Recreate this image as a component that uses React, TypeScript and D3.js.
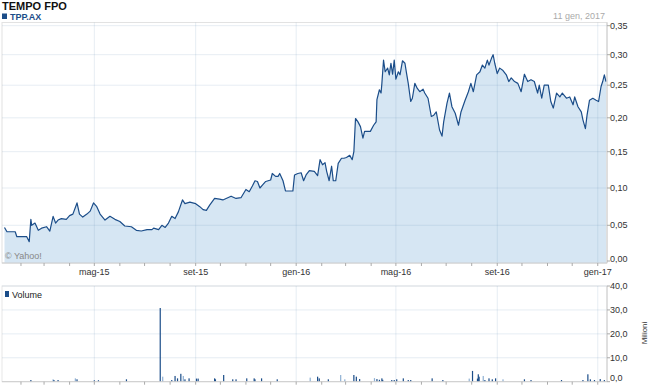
import React from "react";
import * as d3 from "d3";

// ---- price series (TPP.AX, AUD) ----
const priceDates = [
  "2015-01-12","2015-01-15","2015-01-25","2015-01-27","2015-02-08","2015-02-11","2015-02-13","2015-02-14","2015-02-18","2015-02-22",
  "2015-02-26","2015-03-04","2015-03-08","2015-03-12","2015-03-15","2015-03-18","2015-03-22","2015-03-28","2015-04-01","2015-04-05",
  "2015-04-10","2015-04-13","2015-04-17","2015-04-22","2015-04-26","2015-04-30","2015-05-04","2015-05-08","2015-05-14","2015-05-20",
  "2015-05-26","2015-06-01","2015-06-07","2015-06-15","2015-06-21","2015-06-27","2015-07-04","2015-07-10","2015-07-12","2015-07-18",
  "2015-07-22","2015-07-26","2015-07-30","2015-08-03","2015-08-07","2015-08-11","2015-08-16","2015-08-19","2015-08-25","2015-09-01",
  "2015-09-06","2015-09-10","2015-09-14","2015-09-18","2015-09-24","2015-09-30","2015-10-04","2015-10-10","2015-10-14","2015-10-20",
  "2015-10-26","2015-11-01","2015-11-05","2015-11-09","2015-11-12","2015-11-15","2015-11-18","2015-11-21","2015-11-25","2015-12-01",
  "2015-12-03","2015-12-07","2015-12-10","2015-12-12","2015-12-16","2015-12-19","2015-12-28","2015-12-30","2016-01-03","2016-01-07",
  "2016-01-10","2016-01-13","2016-01-17","2016-01-23","2016-01-27","2016-01-30","2016-02-02","2016-02-05","2016-02-07","2016-02-10",
  "2016-02-13","2016-02-15","2016-02-18","2016-02-21","2016-02-25","2016-02-28","2016-03-02","2016-03-06","2016-03-09","2016-03-11",
  "2016-03-13","2016-03-16","2016-03-19","2016-03-22","2016-03-24","2016-03-31","2016-04-04","2016-04-07","2016-04-08","2016-04-11",
  "2016-04-13","2016-04-14","2016-04-16","2016-04-18","2016-04-21","2016-04-23","2016-04-25","2016-04-27","2016-04-29","2016-05-01",
  "2016-05-04","2016-05-06","2016-05-09","2016-05-12","2016-05-14","2016-05-16","2016-05-19","2016-05-21","2016-05-24","2016-05-27",
  "2016-05-30","2016-06-03","2016-06-05","2016-06-09","2016-06-13","2016-06-16","2016-06-19","2016-06-23","2016-06-26","2016-06-28",
  "2016-07-02","2016-07-05","2016-07-08","2016-07-12","2016-07-16","2016-07-19","2016-07-24","2016-07-28","2016-07-31","2016-08-03",
  "2016-08-07","2016-08-11","2016-08-14","2016-08-17","2016-08-20","2016-08-22","2016-08-25","2016-08-27","2016-08-29","2016-09-01",
  "2016-09-04","2016-09-08","2016-09-12","2016-09-15","2016-09-18","2016-09-22","2016-09-26","2016-09-30","2016-10-04","2016-10-08",
  "2016-10-12","2016-10-16","2016-10-20","2016-10-22","2016-10-25","2016-10-28","2016-11-02","2016-11-05","2016-11-08","2016-11-12",
  "2016-11-16","2016-11-19","2016-11-24","2016-11-28","2016-12-02","2016-12-04","2016-12-08","2016-12-12","2016-12-14","2016-12-17",
  "2016-12-19","2016-12-22","2016-12-26","2016-12-30","2017-01-02","2017-01-05","2017-01-07","2017-01-09","2017-01-11",
];
const priceValues = [
  0.047,0.041,0.041,0.034,0.034,0.027,0.058,0.050,0.053,0.043,
  0.046,0.048,0.042,0.062,0.053,0.057,0.059,0.058,0.063,0.065,
  0.080,0.065,0.061,0.065,0.069,0.080,0.075,0.065,0.057,0.062,
  0.058,0.055,0.049,0.048,0.043,0.042,0.044,0.044,0.046,0.044,
  0.050,0.047,0.053,0.062,0.059,0.068,0.084,0.079,0.081,0.079,
  0.075,0.071,0.070,0.077,0.086,0.085,0.084,0.087,0.089,0.086,
  0.087,0.098,0.095,0.103,0.110,0.109,0.100,0.104,0.109,0.111,
  0.120,0.116,0.116,0.120,0.110,0.096,0.096,0.118,0.120,0.121,
  0.110,0.118,0.124,0.123,0.117,0.139,0.132,0.135,0.123,0.110,
  0.130,0.110,0.110,0.134,0.141,0.141,0.142,0.145,0.139,0.150,
  0.199,0.194,0.187,0.170,0.180,0.180,0.189,0.194,0.228,0.243,
  0.238,0.253,0.291,0.272,0.278,0.267,0.286,0.268,0.291,0.260,
  0.272,0.267,0.290,0.286,0.269,0.253,0.225,0.230,0.253,0.245,
  0.240,0.244,0.238,0.230,0.202,0.204,0.209,0.182,0.173,0.194,
  0.222,0.238,0.217,0.207,0.189,0.209,0.227,0.240,0.253,0.240,
  0.267,0.272,0.283,0.278,0.291,0.283,0.294,0.300,0.286,0.269,
  0.278,0.274,0.267,0.256,0.262,0.256,0.253,0.240,0.268,0.256,
  0.259,0.256,0.238,0.250,0.230,0.250,0.250,0.225,0.215,0.238,
  0.232,0.238,0.230,0.232,0.220,0.232,0.217,0.209,0.197,0.184,
  0.204,0.227,0.230,0.227,0.225,0.248,0.256,0.267,0.256,
];

// ---- volume (millions) ----
const volumeDates = [
  "2015-02-13","2015-03-12","2015-03-13","2015-03-18","2015-04-08","2015-04-10","2015-05-01","2015-05-06","2015-06-09","2015-07-20",
  "2015-07-23","2015-08-03","2015-08-07","2015-08-10","2015-08-14","2015-08-17","2015-08-19","2015-08-24","2015-09-02","2015-09-04",
  "2015-09-24","2015-09-25","2015-10-05","2015-10-16","2015-10-20","2015-11-02","2015-11-11","2015-11-12","2015-11-20","2015-12-09",
  "2016-01-18","2016-01-27","2016-01-29","2016-02-09","2016-02-24","2016-02-29","2016-03-11","2016-03-14","2016-03-18","2016-04-05",
  "2016-04-08","2016-04-11","2016-04-14","2016-04-15","2016-04-26","2016-04-29","2016-05-02","2016-05-10","2016-05-16","2016-05-19",
  "2016-06-14","2016-06-27","2016-07-29","2016-08-02","2016-08-08","2016-08-09","2016-08-10","2016-08-15","2016-08-17","2016-08-22",
  "2016-08-26","2016-08-30","2016-09-08","2016-10-04","2016-10-12","2016-11-18","2016-12-14","2016-12-20","2016-12-23","2016-12-28",
  "2017-01-04","2017-01-09",
];
const volumeValues = [
  0.7,1.0,0.7,0.7,1.4,1.0,0.6,0.6,1.0,30.8,
  2.1,0.7,2.4,1.4,3.3,2.4,1.0,1.4,1.3,1.3,
  1.4,1.0,2.8,1.0,1.0,1.4,1.4,1.0,1.4,1.0,
  1.7,2.1,1.4,1.0,2.8,1.0,2.8,2.1,1.1,1.5,
  1.1,0.8,1.4,0.8,0.7,0.7,1.0,1.4,0.7,0.7,
  1.4,0.7,1.3,4.5,1.3,3.1,2.1,2.4,0.7,1.4,
  1.0,1.4,1.0,1.0,0.7,0.7,0.7,3.1,1.0,0.7,
  1.1,0.7,
];
const volumeLight = [
  false,true,false,false,true,false,false,false,false,false,
  true,false,false,false,false,true,false,false,false,false,
  false,false,false,false,false,false,false,false,false,false,
  true,false,false,false,true,true,false,false,false,true,
  false,false,false,false,false,false,false,false,false,false,
  false,false,true,false,false,false,false,true,false,false,
  false,false,true,false,false,false,false,false,false,false,
  false,false,
];

const priceTicks = [0, 0.05, 0.1, 0.15, 0.2, 0.25, 0.3, 0.35];
const volumeTicks = [0, 10, 20, 30, 40];
const majorDates = ["2015-05-01", "2015-09-01", "2016-01-01", "2016-05-01", "2016-09-01", "2017-01-01"];
const majorLabels = ["mag-15", "set-15", "gen-16", "mag-16", "set-16", "gen-17"];
const startDate = "2015-01-12";
const endDate = "2017-01-11";
const title = "TEMPO FPO";
const symbol = "TPP.AX";
const dateLabel = "11 gen, 2017";

const FONT = "'Liberation Sans', Arial, Helvetica, sans-serif";
const parse = d3.timeParse("%Y-%m-%d");
const itLocale = d3.formatLocale({ decimal: ",", thousands: ".", grouping: [3], currency: ["", " €"] });
const fmtPrice = itLocale.format(".2f");
const fmtVol = itLocale.format(".1f");

const LEFT = 2, RIGHT = 607;
const MAIN_TOP = 22.5, MAIN_BOTTOM = 263;
const VOL_TOP = 286, VOL_BOTTOM = 381.7;

export default function App() {
  const x = d3.scaleTime().domain([parse(startDate)!, parse(endDate)!]).range([4.5, 606]);
  // the reference axis is slightly compressed toward the top
  const y = d3.scaleLinear().domain(priceTicks).range([261, 225.3, 188, 151.7, 117.8, 85.2, 54.7, 25.7]);
  const yv = d3.scaleLinear().domain([0, 40]).range([VOL_BOTTOM, VOL_TOP]);

  const pts = priceDates.map((d, i) => ({ d: parse(d)!, v: priceValues[i] }));
  const line = d3.line<{ d: Date; v: number }>().x((p) => x(p.d)).y((p) => y(p.v));
  const area = d3.area<{ d: Date; v: number }>().x((p) => x(p.d)).y0(MAIN_BOTTOM).y1((p) => y(p.v));

  const months = d3.timeMonth.range(d3.timeMonth.ceil(parse(startDate)!), parse(endDate)!);
  const majors = majorDates.map((d) => parse(d)!);
  const gridColor = "rgba(100,140,180,0.16)";
  const navy = "#1b4d89";

  return (
    <svg width={650} height={386} style={{ position: "absolute", left: 0, top: 0, background: "#fff" }} fontFamily={FONT}>
      {/* header */}
      <text x={2} y={10} fontSize={11} fontWeight="bold" fill="#111">{title}</text>
      <rect x={2} y={13.5} width={5} height={5.5} fill={navy} />
      <text x={10} y={19.5} fontSize={9} fontWeight="bold" fill={navy}>{symbol}</text>
      <text x={605} y={19} fontSize={9} fill="#aaa" textAnchor="end">{dateLabel}</text>

      {/* main panel */}
      <rect x={LEFT} y={MAIN_TOP} width={RIGHT - LEFT} height={MAIN_BOTTOM - MAIN_TOP} fill="#fff" stroke="#e2e2e2" />
      <path d={area(pts)!} fill="#d6e6f3" />
      {priceTicks.slice(1).map((t) => (
        <line key={"hg" + t} x1={LEFT} x2={RIGHT} y1={y(t)} y2={y(t)} stroke={gridColor} />
      ))}
      {majors.map((m, i) => (
        <line key={"vg" + i} x1={x(m)} x2={x(m)} y1={MAIN_TOP} y2={MAIN_BOTTOM} stroke={gridColor} />
      ))}
      <path d={line(pts)!} fill="none" stroke={navy} strokeWidth={1.2} strokeLinejoin="round" />
      <line x1={RIGHT} x2={RIGHT} y1={MAIN_TOP} y2={MAIN_BOTTOM} stroke="#ccc" />
      <line x1={LEFT} x2={RIGHT} y1={MAIN_BOTTOM} y2={MAIN_BOTTOM} stroke="#ccc" />
      <text x={5} y={259} fontSize={9} fill="#888">© Yahoo!</text>
      {priceTicks.map((t) => (
        <g key={"py" + t}>
          <line x1={RIGHT} x2={RIGHT + 3} y1={y(t)} y2={y(t)} stroke="#aaa" />
          <text x={610} y={Math.min(y(t), MAIN_BOTTOM - 4)} dy="0.35em" fontSize={9} fill="#333">{fmtPrice(t)}</text>
        </g>
      ))}
      {months.map((m, i) => (
        <line key={"mt" + i} x1={x(m)} x2={x(m)} y1={MAIN_BOTTOM} y2={MAIN_BOTTOM + 3} stroke="#aaa" />
      ))}
      {majors.map((m, i) => (
        <text key={"ml" + i} x={x(m)} y={274.5} fontSize={9} fill="#333" textAnchor="middle">{majorLabels[i]}</text>
      ))}

      {/* volume panel */}
      <rect x={LEFT} y={VOL_TOP} width={RIGHT - LEFT} height={VOL_BOTTOM - VOL_TOP} fill="#fff" stroke="#e8e8e8" />
      {volumeTicks.slice(1).map((t) => (
        <line key={"vh" + t} x1={LEFT} x2={RIGHT} y1={yv(t)} y2={yv(t)} stroke={gridColor} />
      ))}
      {majors.map((m, i) => (
        <line key={"vv" + i} x1={x(m)} x2={x(m)} y1={VOL_TOP} y2={VOL_BOTTOM} stroke={gridColor} />
      ))}
      {volumeDates.map((d, i) => {
        const xx = x(parse(d)!);
        const top = yv(volumeValues[i]);
        return (
          <rect key={"vb" + i} x={xx - 0.6} y={top} width={1.2} height={VOL_BOTTOM - top}
            fill={volumeLight[i] ? "#8fb0d3" : navy} />
        );
      })}
      <line x1={RIGHT} x2={RIGHT} y1={VOL_TOP} y2={VOL_BOTTOM} stroke="#ccc" />
      <line x1={LEFT} x2={RIGHT} y1={VOL_BOTTOM} y2={VOL_BOTTOM} stroke="#ccc" />
      <rect x={5} y={291} width={4} height={6} fill={navy} />
      <text x={12} y={297.5} fontSize={9} fill="#222">Volume</text>
      {volumeTicks.map((t) => (
        <g key={"vy" + t}>
          <line x1={RIGHT} x2={RIGHT + 3} y1={yv(t)} y2={yv(t)} stroke="#aaa" />
          <text x={610} y={Math.min(yv(t), VOL_BOTTOM - 4)} dy="0.35em" fontSize={9} fill="#333">{fmtVol(t)}</text>
        </g>
      ))}
      {months.map((m, i) => (
        <line key={"vt" + i} x1={x(m)} x2={x(m)} y1={VOL_BOTTOM} y2={VOL_BOTTOM + 3} stroke="#aaa" />
      ))}
      <text transform="translate(647,333) rotate(-90)" fontSize={8} fill="#333" textAnchor="middle">Milioni</text>
    </svg>
  );
}
